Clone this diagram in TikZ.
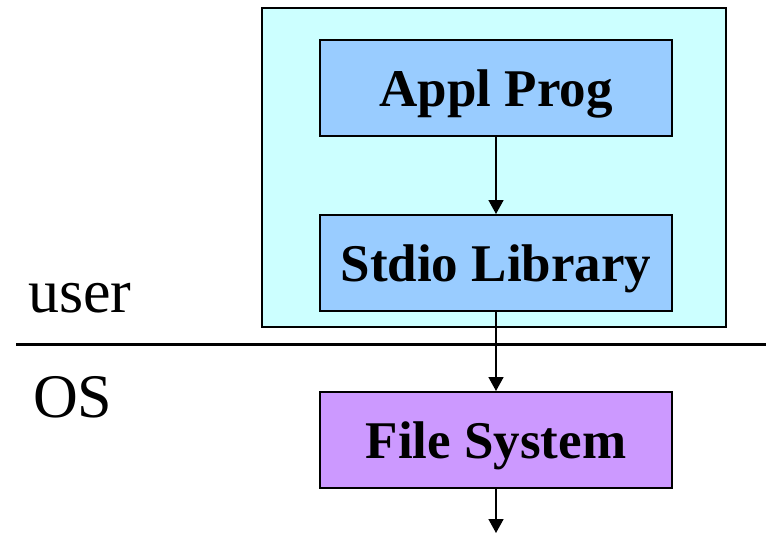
\documentclass[tikz,border=0pt]{standalone}
\usepackage{fontspec}
\setmainfont{Liberation Serif}
\usetikzlibrary{arrows.meta}
\definecolor{userbg}{HTML}{CCFFFF}
\definecolor{libbg}{HTML}{99CCFF}
\definecolor{osbg}{HTML}{CC99FF}
\begin{document}
\begin{tikzpicture}[x=1pt,y=-1pt,
  layer/.style={draw=black,line width=2pt,minimum width=352pt,minimum height=96pt,inner sep=0pt,
    text height=36pt,text depth=0pt,font=\fontsize{53}{60}\selectfont\bfseries},
  flow/.style={line width=1.6pt,-{Triangle[length=14pt,width=15pt]}}]
\useasboundingbox (0,0) rectangle (771,533);
%\node[draw] at (0,0) {some text};
\node [draw=black,line width=2pt,fill=userbg,minimum width=464pt,minimum height=319pt] (userspace) at (494,167.5) {};
\node [layer,fill=libbg] (appl) at (496,88) {Appl Prog};
\node [layer,fill=libbg] (stdio) at (496,263) {Stdio Library};
\node [layer,fill=osbg] (fs) at (496,440) {File System};
\coordinate (lineL) at (16,344);
\coordinate (lineR) at (766,344);
\coordinate (down) at (496,533);
\draw [line width=3pt] (lineL) -- (lineR);
\node [anchor=base west,inner sep=0pt,font=\fontsize{62}{70}\selectfont] (user) at (28,312) {user};
\node [anchor=base west,inner sep=0pt,font=\fontsize{62}{70}\selectfont] (os) at (33,417) {OS};
\draw [flow] (appl) -- (stdio);
\draw [flow] (stdio) -- (fs);
\draw [flow] (fs) -- (down);
\end{tikzpicture}
\end{document}
